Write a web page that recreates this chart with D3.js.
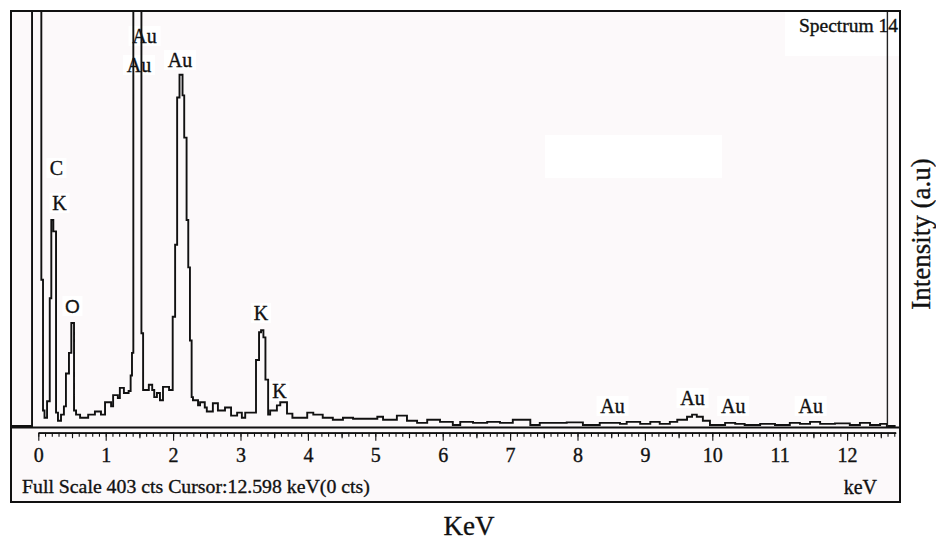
<!DOCTYPE html>
<html>
<head>
<meta charset="utf-8">
<script src="https://cdn.jsdelivr.net/npm/d3@7"></script>
<style>
  html, body { margin: 0; padding: 0; background: #ffffff; }
  svg { display: block; }
  text { paint-order: stroke; stroke: #111; stroke-width: 0.35px; }
</style>
</head>
<body>
<svg id="chart" width="936" height="540"></svg>
<script>
// ---------------- DATA ----------------
// Channel start energies (keV) and counts (step spectrum)
const energy = [
  -0.405, -0.093, 0.045, 0.07, 0.092, 0.13, 0.17, 0.193, 0.223, 0.263,
  0.292, 0.337, 0.38, 0.41, 0.455, 0.49, 0.53, 0.56, 0.62, 0.74,
  0.84, 0.93, 0.99, 1.08, 1.11, 1.18, 1.21, 1.27, 1.34, 1.37,
  1.39, 1.41, 1.53, 1.555, 1.64, 1.69, 1.72, 1.76, 1.805, 1.85,
  1.94, 1.994, 2.03, 2.06, 2.095, 2.14, 2.165, 2.2, 2.225, 2.25,
  2.275, 2.295, 2.37, 2.4, 2.47, 2.5, 2.59, 2.665, 2.77, 2.86,
  2.95, 3.02, 3.07, 3.23, 3.275, 3.305, 3.34, 3.37, 3.41, 3.44,
  3.54, 3.59, 3.69, 3.77, 3.99, 4.08, 4.22, 4.37, 4.52, 4.67,
  5.03, 5.115, 5.32, 5.47, 5.62, 5.77, 5.96, 6.15, 6.26, 6.45,
  6.66, 6.85, 7.04, 7.3, 7.44, 7.84, 8.08, 8.33, 8.63, 8.73,
  8.93, 9.08, 9.22, 9.37, 9.48, 9.625, 9.7, 9.77, 9.86, 9.965,
  10.19, 10.34, 10.48, 10.71, 10.93, 11.15, 11.3, 11.45, 11.6, 11.82,
  12.04, 12.19, 12.34, 12.49, 12.59, 12.72
];
const counts = [
  1, 600, 143, 16, 9, 25, 125, 201, 190, 14,
  6, 12, 20, 52, 72, 101, 16, 12, 9, 12,
  15, 12, 24, 20, 31, 28, 38, 33, 35, 50,
  72, 600, 91, 36, 41, 36, 29, 33, 26, 39,
  36, 107, 177, 320, 342, 322, 281, 201, 155, 84,
  29, 26, 21, 24, 19, 15, 23, 16, 19, 11,
  14, 9, 14, 65, 92, 94, 87, 46, 12, 16,
  21, 24, 13, 9, 14, 12, 9, 7, 9, 8,
  10, 7, 11, 6, 4, 7, 5, 2, 5, 4,
  5, 4, 7, 2, 4, 4.5, 2, 4, 3, 5,
  3, 5, 3, 5, 7, 10, 12, 10, 6, 2,
  4, 3, 2, 3, 2, 4, 3, 5, 3, 3.5,
  2, 4, 2, 3, 1, 1
];

// Peak labels: text, energy (keV), count level of label baseline
const labelText   = ["C", "K", "O", "Au", "Au", "Au", "K", "K", "Au", "Au", "Au", "Au"];
const labelKeV    = [0.27, 0.315, 0.507, 1.576, 1.494, 2.102, 3.304, 3.578, 8.52, 9.707, 10.31, 11.46];
const labelCounts = [244.7, 210.7, 110.7, 372.9, 344.7, 349.5, 103.9, 28.2, 13.6, 21.4, 13.6, 13.6];

// Axis tick labels
const majorTicks = [0, 1, 2, 3, 4, 5, 6, 7, 8, 9, 10, 11, 12];
const fullScale = 403;
const cursorKeV = 12.598;
const infoText = "Full Scale 403 cts Cursor:12.598 keV(0 cts)";
const spectrumTitle = "Spectrum 14";
const xTitle = "KeV";
const yTitle = "Intensity (a.u)";
const unitText = "keV";

// ---------------- LAYOUT ----------------
const svg = d3.select("#chart");
const frame = { left: 11, top: 11, right: 900, plotBottom: 427.5, bottom: 502 };
const serif = "'Liberation Serif', 'Times New Roman', serif";

const x = d3.scaleLinear().domain([0, 12]).range([38.3, 847.1]);
const y = d3.scaleLinear().domain([0, fullScale]).range([427, 12]);

// Backgrounds
svg.append("rect").attr("x", frame.left).attr("y", frame.top)
  .attr("width", frame.right - frame.left).attr("height", frame.bottom - frame.top)
  .attr("fill", "#fcf9fa");
svg.append("rect").attr("x", 785).attr("y", 12).attr("width", 114).attr("height", 44).attr("fill", "#ffffff");
svg.append("rect").attr("x", 545).attr("y", 135).attr("width", 177).attr("height", 43).attr("fill", "#ffffff");

// clip for the spectrum
svg.append("clipPath").attr("id", "plotClip")
  .append("rect").attr("x", frame.left).attr("y", frame.top)
  .attr("width", frame.right - frame.left).attr("height", frame.plotBottom - frame.top);

// label backgrounds (white)
const labelsG = svg.append("g");
labelText.forEach((t, i) => {
  const w = t.length === 2 ? 28 : 16;
  labelsG.append("rect")
    .attr("x", x(labelKeV[i]) - w / 2 - 2)
    .attr("y", y(labelCounts[i]) - 17)
    .attr("width", w + 4).attr("height", 20)
    .attr("fill", "#ffffff");
});

// Spectrum line
const pts = energy.map((e, i) => [e, counts[i]]);
const line = d3.line().x(d => x(d[0])).y(d => y(d[1])).curve(d3.curveStepAfter);
svg.append("path")
  .datum(pts)
  .attr("clip-path", "url(#plotClip)")
  .attr("d", line)
  .attr("fill", "none")
  .attr("stroke", "#111")
  .attr("stroke-width", 1.9)
  .attr("stroke-linejoin", "miter");

// Cursor line
svg.append("line")
  .attr("x1", x(cursorKeV)).attr("x2", x(cursorKeV))
  .attr("y1", frame.top).attr("y2", frame.plotBottom)
  .attr("stroke", "#222").attr("stroke-width", 1.4);

// Peak label texts
labelText.forEach((t, i) => {
  svg.append("text")
    .attr("x", x(labelKeV[i])).attr("y", y(labelCounts[i]))
    .attr("text-anchor", "middle")
    .attr("font-family", t === "O" ? "'Liberation Sans', Arial, sans-serif" : serif)
    .attr("font-size", t === "O" ? 19 : 20)
    .attr("fill", "#111")
    .text(t);
});

// Frame
svg.append("rect").attr("x", frame.left).attr("y", frame.top)
  .attr("width", frame.right - frame.left).attr("height", frame.bottom - frame.top)
  .attr("fill", "none").attr("stroke", "#111").attr("stroke-width", 2);
svg.append("line").attr("x1", frame.left).attr("x2", frame.right)
  .attr("y1", frame.plotBottom).attr("y2", frame.plotBottom)
  .attr("stroke", "#111").attr("stroke-width", 2.2);

// Axis with ticks hanging down from a baseline
const axisY = 432.7;
const axisScale = x.copy().domain([0, 12.72]).range([x(0), x(12.72)]);
const minorVals = d3.range(0, 12.75, 0.1).map(v => +v.toFixed(1));
const midVals = d3.range(0.5, 12.75, 1);

const gMinor = svg.append("g").attr("transform", `translate(0,${axisY})`)
  .call(d3.axisBottom(axisScale).tickValues(minorVals).tickSize(4).tickSizeOuter(0).tickFormat(""));
const gMid = svg.append("g").attr("transform", `translate(0,${axisY})`)
  .call(d3.axisBottom(axisScale).tickValues(midVals).tickSize(5.5).tickSizeOuter(0).tickFormat(""));
const gMajor = svg.append("g").attr("transform", `translate(0,${axisY})`)
  .call(d3.axisBottom(axisScale).tickValues(majorTicks).tickSize(8).tickSizeOuter(0).tickPadding(14).tickFormat(d3.format("d")));
[gMinor, gMid, gMajor].forEach(g => {
  g.selectAll("path.domain").attr("stroke", "#111").attr("stroke-width", 1.4);
  g.selectAll(".tick line").attr("stroke", "#111").attr("stroke-width", 1.1);
});
gMajor.selectAll(".tick text")
  .attr("font-family", serif).attr("font-size", 20).attr("fill", "#111")
  .attr("dy", null).attr("y", 29);

// Info text
svg.append("text").attr("x", 22).attr("y", 492.5)
  .attr("font-family", serif).attr("font-size", 19.8).attr("fill", "#111")
  .text(infoText);
svg.append("text").attr("x", 877).attr("y", 494).attr("text-anchor", "end")
  .attr("font-family", serif).attr("font-size", 20).attr("fill", "#111")
  .text(unitText);

// Spectrum title
svg.append("text").attr("x", 898).attr("y", 32).attr("text-anchor", "end")
  .attr("font-family", serif).attr("font-size", 19.5).attr("fill", "#111")
  .text(spectrumTitle);

// Axis titles
svg.append("text").attr("x", 469).attr("y", 535).attr("text-anchor", "middle")
  .attr("font-family", serif).attr("font-size", 27).attr("fill", "#111")
  .text(xTitle);
svg.append("text").attr("transform", "translate(930,234) rotate(-90)")
  .attr("text-anchor", "middle")
  .attr("font-family", serif).attr("font-size", 27).attr("fill", "#111")
  .text(yTitle);
</script>
</body>
</html>
